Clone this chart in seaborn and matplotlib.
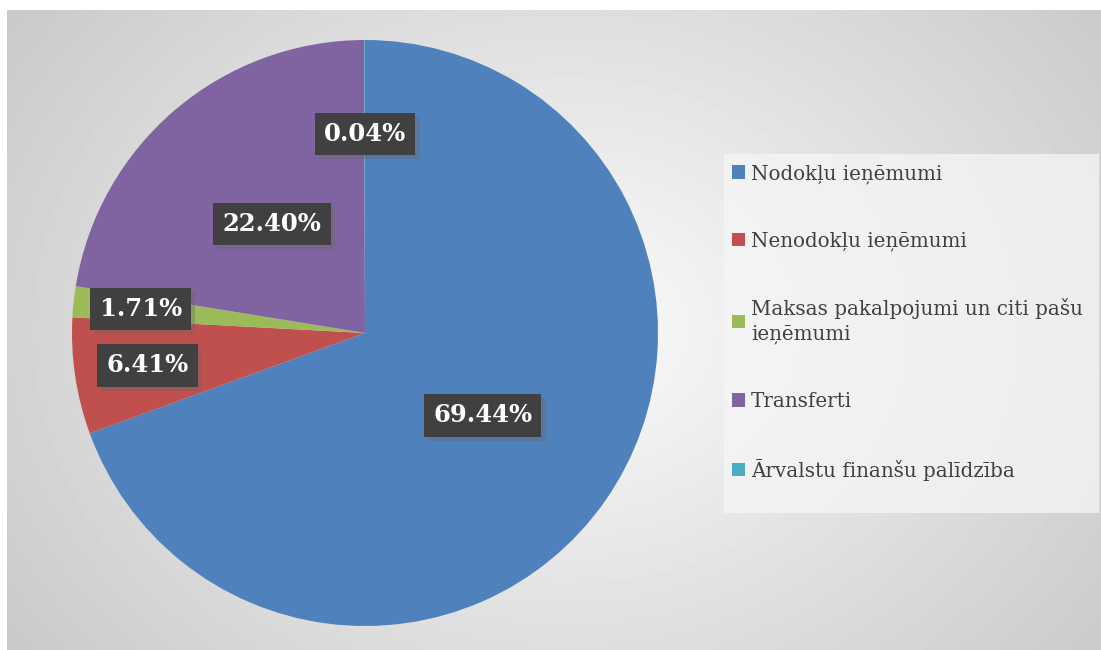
import numpy as np
import matplotlib
matplotlib.use("Agg")
import matplotlib.pyplot as plt
import matplotlib.patheffects as pe
import seaborn as sns

categories = ["Nodokļu ieņēmumi", "Nenodokļu ieņēmumi",
              "Maksas pakalpojumi un citi pašu\nieņēmumi", "Transferti",
              "Ārvalstu finanšu palīdzība"]
values = [69.44, 6.41, 1.71, 22.40, 0.04]
labels = ["69.44%", "6.41%", "1.71%", "22.40%", "0.04%"]
colors = ["#4f81bd", "#c0504d", "#9bbb59", "#8064a2", "#4bacc6"]

sns.set_theme(style="white")
plt.rcParams["font.family"] = ["DejaVu Serif"]

fig = plt.figure(figsize=(11.01, 6.5), dpi=100)

# gradient background
bg = fig.add_axes([7 / 1101, 0, 1094 / 1101, 640 / 650])
yy, xx = np.mgrid[0:640, 0:1094]
d = np.sqrt(((xx - 560) / 700) ** 2 + ((yy - 320) / 560) ** 2)
shade = np.clip(0.985 - 0.2 * d, 0.76, 1.0)
bg.imshow(shade, cmap="gray", vmin=0, vmax=1, aspect="auto")
bg.axis("off")

ax = fig.add_axes([(365 - 300) / 1101, (650 - 333 - 300) / 650, 600 / 1101, 600 / 650])
wedges, _ = ax.pie(values, colors=colors, startangle=90, counterclock=False,
                   radius=293 / 300, wedgeprops=dict(linewidth=0))
ax.set_xlim(-1, 1)
ax.set_ylim(-1, 1)
ax.set_aspect("equal")
ax.axis("off")

# label positions as fraction of radius along wedge mid-angle
label_r = [0.49, 0.75, 0.77, 0.49, 0.68]
cum = 0
for w, lab, r, v in zip(wedges, labels, label_r, values):
    mid = np.deg2rad(90 - (cum + v / 2) * 3.6)
    cum += v
    if lab == "0.04%":
        x, y = 0.0, r * 293 / 300
    else:
        x, y = r * np.cos(mid) * 293 / 300, r * np.sin(mid) * 293 / 300
    t = ax.text(x, y, lab, ha="center", va="center", color="white",
                fontsize=17.5, fontweight="bold",
                bbox=dict(boxstyle="square,pad=0.38", fc="#404040", ec="none"))
    t.get_bbox_patch().set_path_effects(
        [pe.SimplePatchShadow(offset=(3, -3), shadow_rgbFace="#666666", alpha=0.35), pe.Normal()])

# legend panel
fig.patches.append(plt.Rectangle((724 / 1101, 1 - 513 / 650), 375 / 1101, 359 / 650,
                                 transform=fig.transFigure, fc="#f6f6f6", alpha=0.75,
                                 ec="none", zorder=1))

handles = [plt.Rectangle((0, 0), 1, 1, fc=c, ec="none") for c in colors]
leg = fig.legend(handles, categories, loc="upper left",
                 bbox_to_anchor=(728 / 1101, 1 - 160 / 650),
                 frameon=False, fontsize=14.3, labelspacing=2.4,
                 handlelength=0.65, handleheight=0.65, handletextpad=0.3,
                 borderpad=0.2, borderaxespad=0, labelcolor="#404040")
for txt in leg.get_texts():
    txt.set_linespacing(1.35)

fig.savefig("out.png", dpi=100)
